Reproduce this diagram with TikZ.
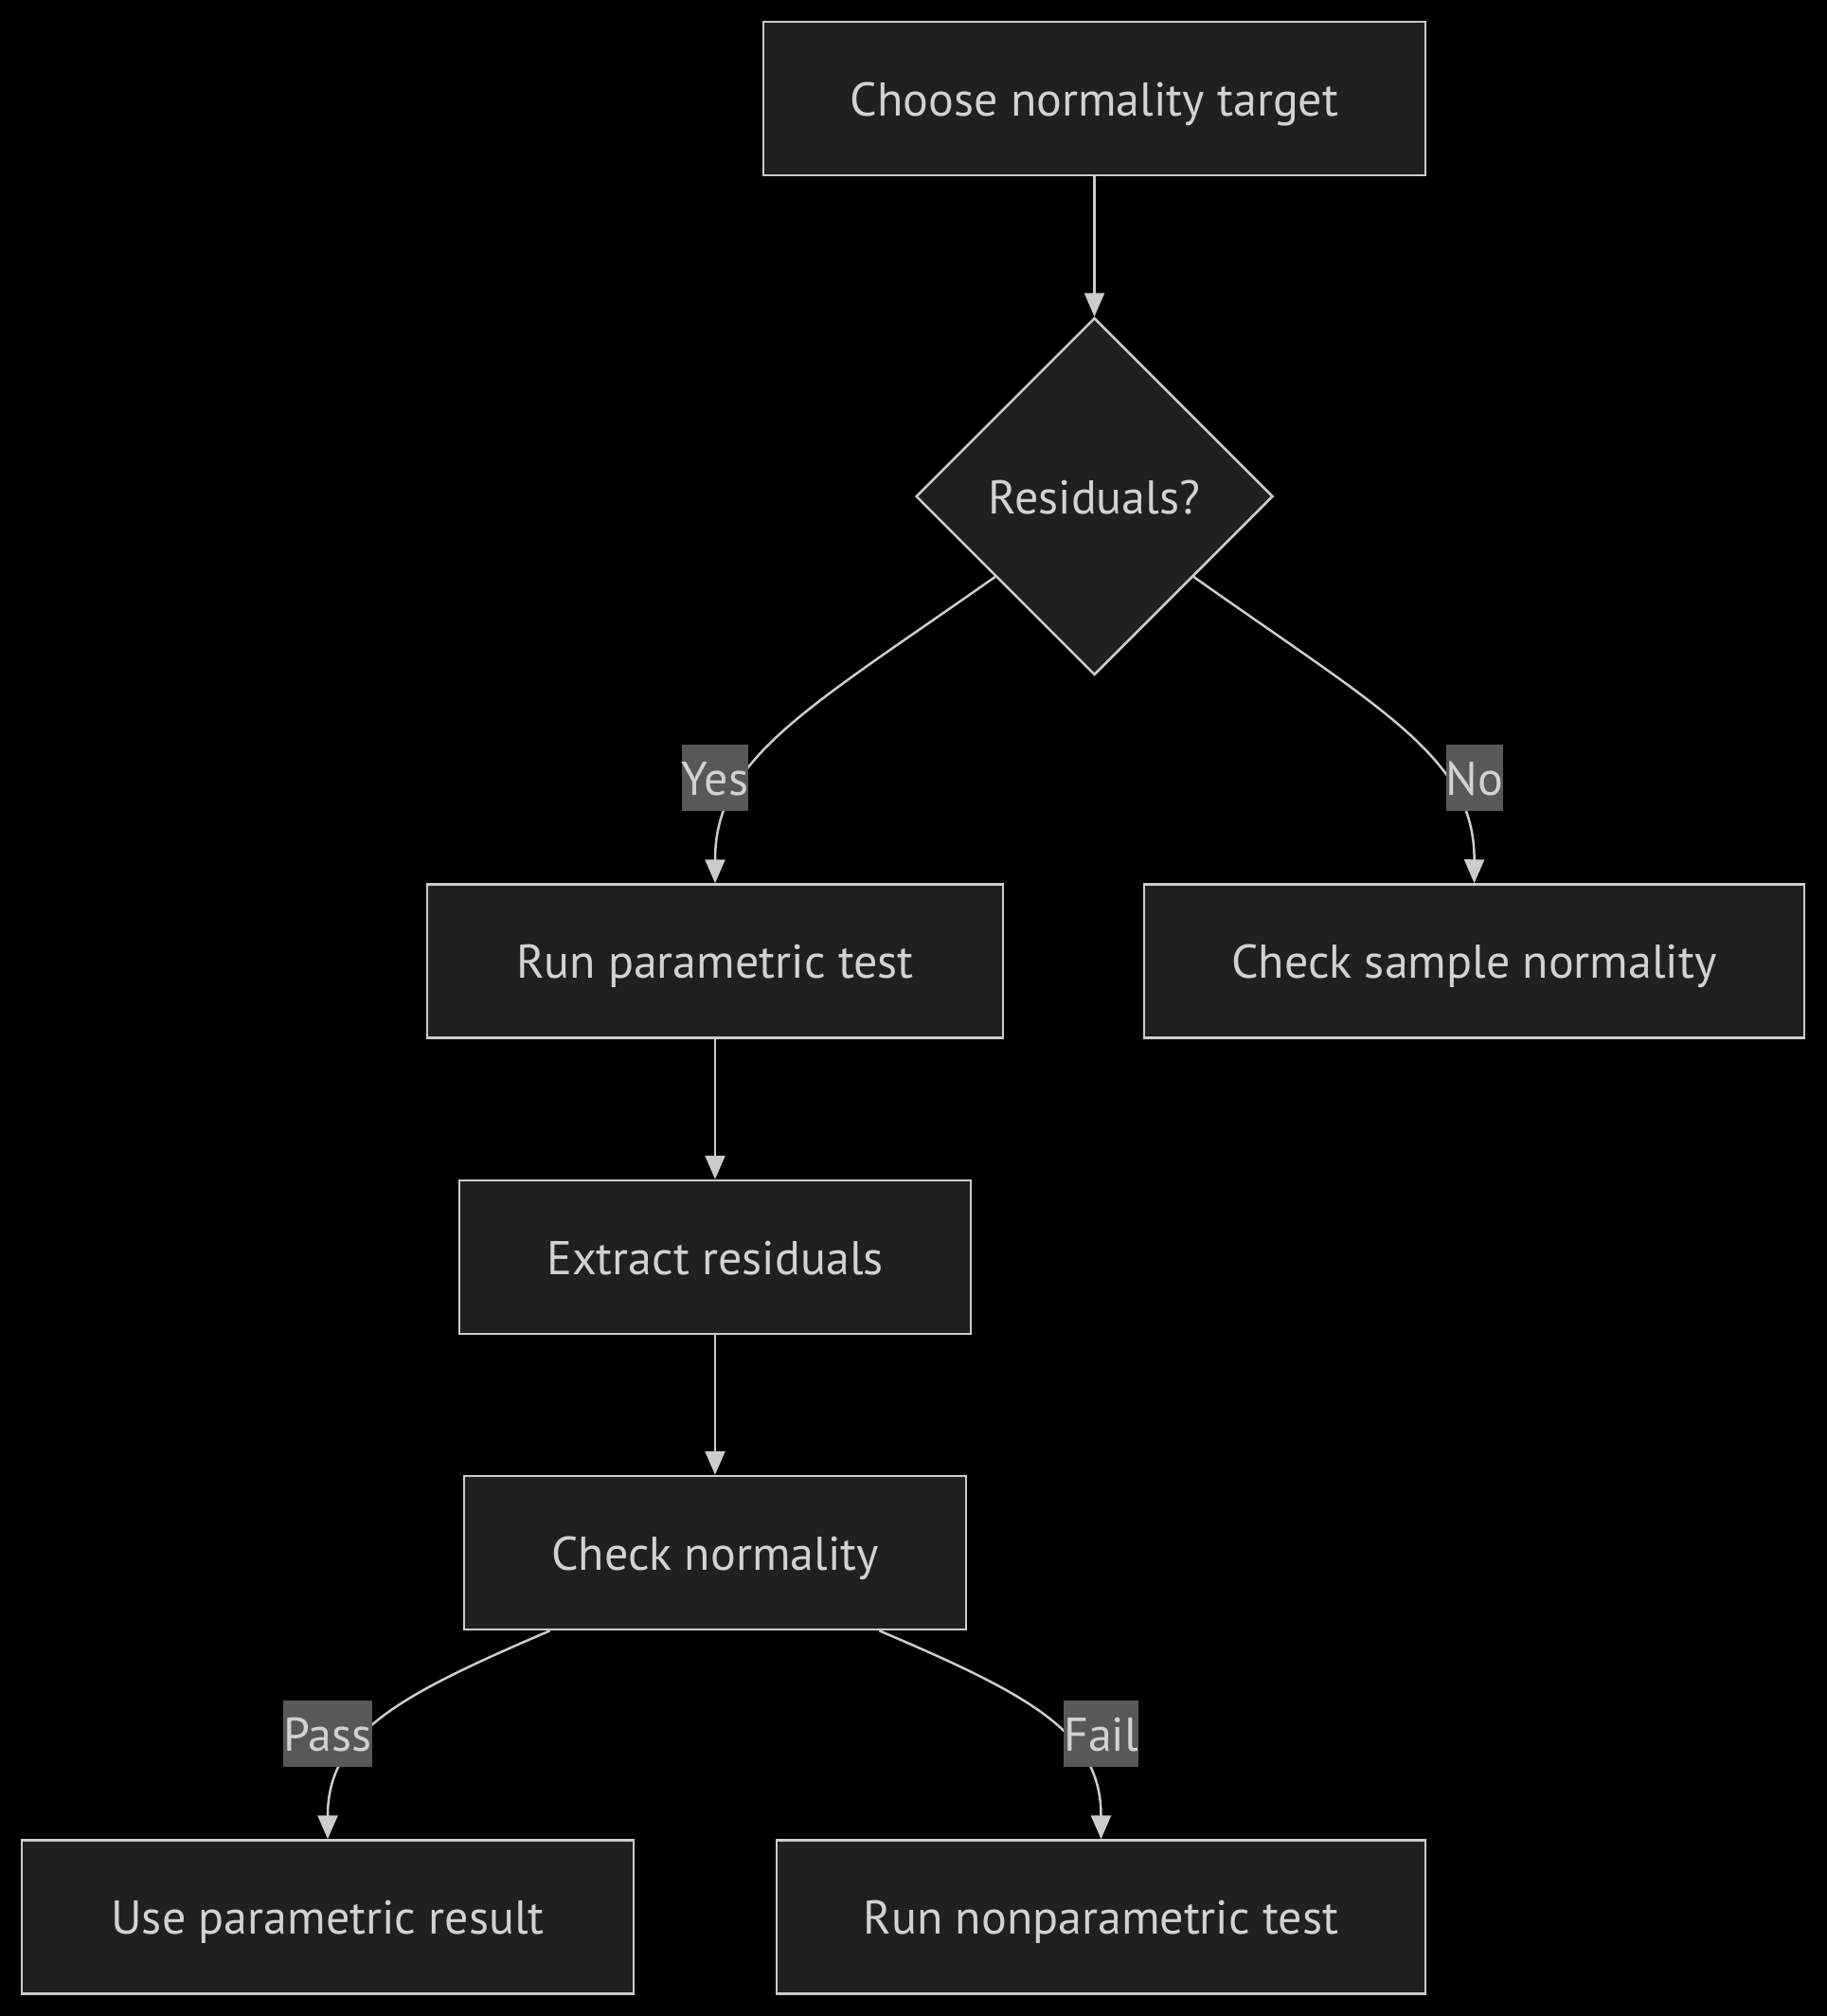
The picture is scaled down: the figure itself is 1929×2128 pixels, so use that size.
\documentclass[tikz,border=0pt]{standalone}
\usepackage{fontspec}
\setmainfont{PT Sans}
\usetikzlibrary{arrows.meta,shapes.geometric}
\definecolor{nodefill}{HTML}{1F2020}
\definecolor{edgec}{HTML}{CCCCCC}
\definecolor{txt}{HTML}{D2D2D2}
\definecolor{lblfill}{HTML}{585858}
\begin{document}
\begin{tikzpicture}[x=1pt,y=-1pt,
  txtfont/.style={font=\fontsize{50}{60}\selectfont, text height=36pt, text depth=0pt},
  box/.style={draw=edgec, line width=2.5pt, fill=nodefill, text=txt, inner sep=0pt, minimum height=162pt, txtfont},
  dia/.style={diamond, aspect=1, draw=edgec, line width=2.5pt, fill=nodefill, text=txt, inner sep=0pt, minimum width=377pt, minimum height=377pt, txtfont},
  lbl/.style={fill=lblfill, text=txt, inner sep=0pt, minimum height=70pt, txtfont},
  conn/.style={draw=edgec, line width=2.5pt, -{Triangle[width=21pt,length=25pt]}}
]
\useasboundingbox[fill=black] (0,0) rectangle (1929,2128);

\node[box, minimum width=699pt] (top) at (1155.5,104) {Choose normality target};
\node[dia] (res) at (1155.5,524) {Residuals?};
\node[box, minimum width=608pt] (run) at (755,1014.5) {Run parametric test};
\node[box, minimum width=697pt] (sample) at (1556.5,1014.5) {Check sample normality};
\node[box, minimum width=540pt] (extract) at (755,1327) {Extract residuals};
\node[box, minimum width=530pt] (chk) at (755,1639) {Check normality};
\node[box, minimum width=646pt] (use) at (346,2023.5) {Use parametric result};
\node[box, minimum width=685pt] (nonpar) at (1162.5,2023.5) {Run nonparametric test};

\draw[conn] (top.south) -- (res.north);
\draw[conn] (res.-141) .. controls (850,750) and (755,800) .. (run.north);
\draw[conn] (res.-39) .. controls (1460,750) and (1557,800) .. (sample.north);
\draw[conn] (run.south) -- (extract.north);
\draw[conn] (extract.south) -- (chk.north);
\draw[conn] ([xshift=92pt]chk.south west) .. controls (420,1790) and (346,1830) .. (use.north);
\draw[conn] ([xshift=-93pt]chk.south east) .. controls (1090,1790) and (1162.5,1830) .. (nonpar.north);

\node[lbl, minimum width=66pt] (lyes) at (755,821) {Yes};
\node[lbl, minimum width=54pt] (lno) at (1557,821) {No};
\node[lbl, minimum width=90pt] (lpass) at (346,1830) {Pass};
\node[lbl, minimum width=77pt] (lfail) at (1162.5,1830) {Fail};
\end{tikzpicture}
\end{document}
